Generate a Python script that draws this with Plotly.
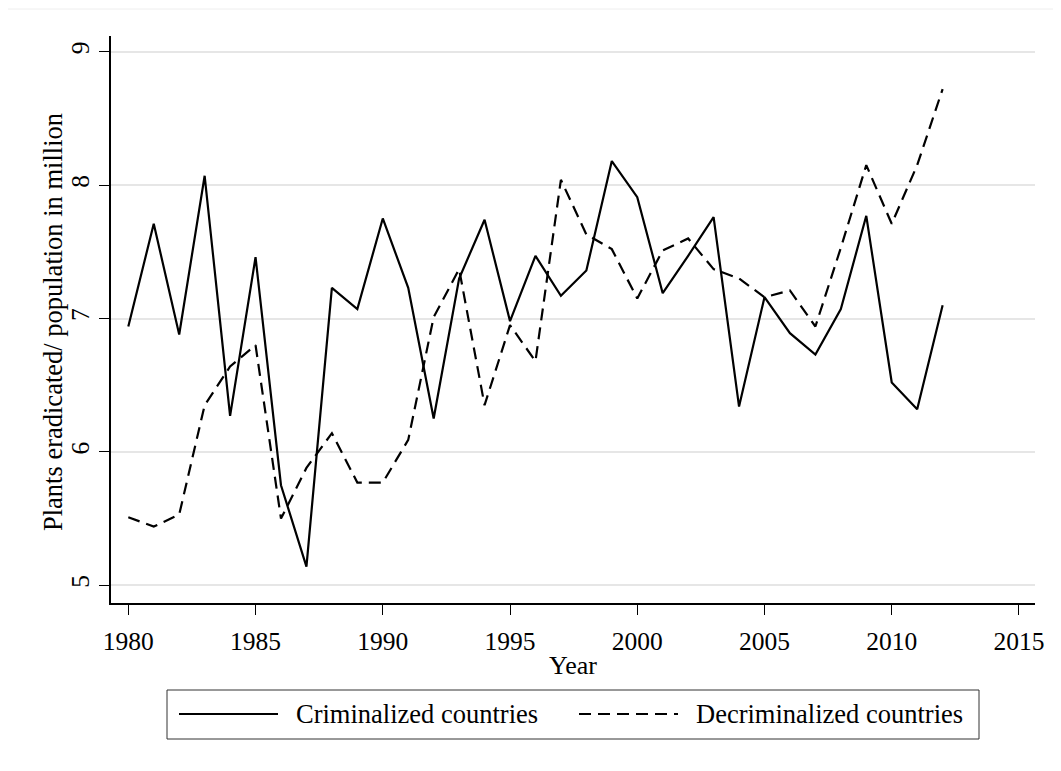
import plotly.graph_objects as go

years = list(range(1980, 2013))
criminalized = [6.94, 7.71, 6.88, 8.07, 6.27, 7.46, 5.75, 5.14, 7.23, 7.07,
                7.75, 7.23, 6.25, 7.30, 7.74, 6.98, 7.47, 7.17, 7.36, 8.18,
                7.91, 7.19, 7.47, 7.76, 6.34, 7.16, 6.89, 6.73, 7.07, 7.77,
                6.52, 6.32, 7.10]
decriminalized = [5.51, 5.44, 5.53, 6.35, 6.64, 6.80, 5.50, 5.88, 6.14, 5.77,
                  5.77, 6.09, 7.01, 7.37, 6.35, 6.95, 6.68, 8.04, 7.63, 7.52,
                  7.15, 7.51, 7.60, 7.37, 7.30, 7.16, 7.21, 6.94, 7.53, 8.15,
                  7.71, 8.15, 8.72]
series_names = ["Criminalized countries", "Decriminalized countries"]
x_ticks = [1980, 1985, 1990, 1995, 2000, 2005, 2010, 2015]
y_ticks = [5, 6, 7, 8, 9]
x_title = "Year"
y_title = "Plants eradicated/ population in million"

FONT = "Liberation Serif, Times New Roman, serif"
DASH = "12px,7px"

fig = go.Figure()
fig.add_trace(go.Scatter(x=years, y=criminalized, mode="lines", name=series_names[0],
                         line=dict(color="black", width=2.2), showlegend=False))
fig.add_trace(go.Scatter(x=years, y=decriminalized, mode="lines", name=series_names[1],
                         line=dict(color="black", width=2.2, dash=DASH), showlegend=False))

# page has an 8px body margin: figure is 1053x763 placed at (8, 8)
OFF = 8
W, H = 1061 - OFF, 771 - OFF
PL, PR, PT, PB = 111, 1035, 36, 603          # plot area in page pixels
L, T = PL - OFF, PT - OFF
R = (W + OFF) - PR
B = (H + OFF) - PB
pw, ph = PR - PL, PB - PT
def px(x):
    return (x - PL) / pw
def py(y):
    return (PB - y) / ph

shapes = [
    dict(type="rect", xref="paper", yref="paper", x0=px(167), x1=px(979), y0=py(739), y1=py(690),
         line=dict(color="#333333", width=1), fillcolor="white", layer="below"),
    dict(type="line", xref="paper", yref="paper", x0=px(179), x1=px(278), y0=py(714), y1=py(714),
         line=dict(color="black", width=2.2)),
    dict(type="line", xref="paper", yref="paper", x0=px(579), x1=px(678), y0=py(714), y1=py(714),
         line=dict(color="black", width=2.2, dash=DASH)),
    dict(type="line", xref="paper", yref="paper", x0=px(8), x1=px(1061), y0=py(9), y1=py(9),
         line=dict(color="#eeeeee", width=1)),
]
annotations = [
    dict(text=series_names[0], xref="paper", yref="paper", x=px(294), y=py(714),
         xanchor="left", yanchor="middle", showarrow=False,
         font=dict(family=FONT, size=26.5, color="black")),
    dict(text=series_names[1], xref="paper", yref="paper", x=px(694), y=py(714),
         xanchor="left", yanchor="middle", showarrow=False,
         font=dict(family=FONT, size=26.5, color="black")),
    dict(text=y_title, xref="paper", yref="paper", x=px(53), y=py(322), textangle=-90,
         xanchor="center", yanchor="middle", showarrow=False,
         font=dict(family=FONT, size=26.5, color="black")),
]

fig.update_layout(
    width=W, height=H,
    margin=dict(l=L, r=R, t=T, b=B, autoexpand=False),
    paper_bgcolor="white", plot_bgcolor="white",
    font=dict(family=FONT, size=25.5, color="black"),
    shapes=shapes, annotations=annotations,
    showlegend=False,
)
fig.update_xaxes(
    range=[1979.32, 2015.63], tickvals=x_ticks, ticks="outside", ticklen=10, tickwidth=1.2,
    tickcolor="black", showline=True, linecolor="black", linewidth=1.5, showgrid=False,
    zeroline=False, ticklabelstandoff=5,
    title=dict(text=x_title, standoff=0, font=dict(size=26)),
    tickfont=dict(size=25.5),
)
fig.update_yaxes(
    range=[4.867, 9.118], tickvals=y_ticks, ticks="outside", ticklen=10, tickwidth=1.2,
    tickcolor="black", showline=True, linecolor="black", linewidth=1.5, showgrid=True,
    gridcolor="#e6e6e6", gridwidth=2, zeroline=False, tickangle=-90,
    tickfont=dict(size=25.5),
)

fig.write_html("out.html")
